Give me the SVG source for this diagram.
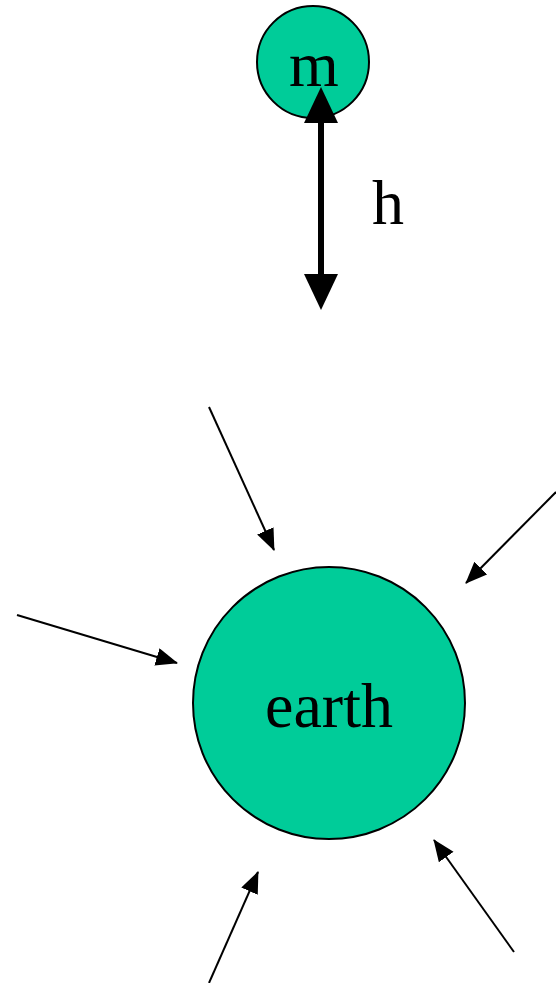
<svg xmlns="http://www.w3.org/2000/svg" width="556" height="983" viewBox="0 0 556 983">
<style>
.body{fill:#00CC99;stroke:#000;stroke-width:2}
.lbl{font-family:"Liberation Serif","Times New Roman",serif;fill:#000;text-anchor:middle;font-size:64px}
.thin{stroke:#000;stroke-width:2;fill:none;marker-end:url(#ah)}
.thick{stroke:#000;stroke-width:6;fill:none;marker-start:url(#bh);marker-end:url(#bh)}
</style>
<defs>
<marker id="ah" markerUnits="userSpaceOnUse" markerWidth="24" markerHeight="20" refX="21" refY="9" orient="auto" viewBox="0 0 24 20">
<path d="M0,0 L22,9 L0,18 Z" fill="#000"/>
</marker>
<marker id="bh" markerUnits="userSpaceOnUse" markerWidth="38" markerHeight="36" refX="0" refY="17" orient="auto-start-reverse" viewBox="0 0 38 36">
<path d="M0,0 L36,17 L0,34 Z" fill="#000"/>
</marker>
</defs>
<g id="mass">
<circle class="body" cx="313" cy="62" r="56"/>
<text class="lbl" x="314" y="86">m</text>
</g>
<g id="earth">
<circle class="body" cx="329" cy="703" r="136"/>
<text class="lbl" x="329" y="727">earth</text>
</g>
<g id="h-label">
<text class="lbl" x="388" y="224">h</text>
</g>
<g id="connectors">
<line class="thick" x1="321" y1="123" x2="321" y2="274"/>
<line class="thin" x1="209" y1="407" x2="274" y2="550"/>
<line class="thin" x1="17" y1="615" x2="177" y2="663"/>
<line class="thin" x1="556" y1="492" x2="466" y2="583"/>
<line class="thin" x1="209" y1="983" x2="258" y2="872"/>
<line class="thin" x1="514" y1="952" x2="434" y2="840"/>
</g>
</svg>
